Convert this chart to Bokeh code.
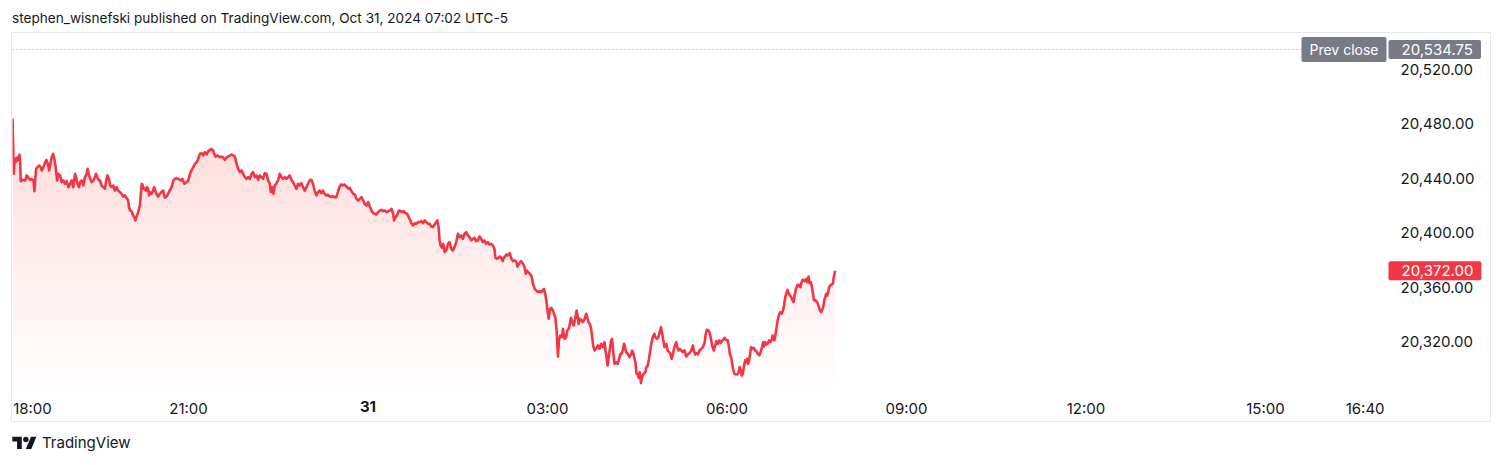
import numpy as np
from bokeh.plotting import figure
from bokeh.models import (FixedTicker, NumeralTickFormatter, Label, Div, Range1d)
from bokeh.layouts import column
from bokeh.embed import file_html
from bokeh.resources import INLINE

# ---------------- data (minutes after 18:00, price) ----------------
minutes = [
    3.5, 4.8, 5.5, 6.8, 7.5, 8.5, 9.5, 10.5, 11.2, 11.8, 13.5, 16.2, 17.8, 19.5, 21.2, 22.8, 24.5, 25.5, 26.2,
    27.2, 28.5, 30.2, 31.8, 32.8, 34.5, 36.2, 37.5, 38.8, 40.2, 41.5, 42.8, 44.2, 45.5, 46.8, 48.2, 49.5,
    51.2, 52.8, 54.5, 56.2, 57.8, 59.5, 61.2, 62.8, 64.5, 66.2, 67.2, 68.5, 70.2, 71.2, 72.8, 74.5, 76.2,
    77.8, 78.8, 80.2, 81.5, 82.8, 84.5, 85.5, 87.2, 88.5, 89.5, 91.2, 92.8, 94.5, 96.2, 97.8, 98.8, 100.2,
    101.5, 102.8, 104.5, 105.5, 106.2, 107.8, 109.5, 111.2, 112.8, 114.5, 116.2, 117.8, 119.5, 120.5, 121.5,
    122.8, 124.5, 125.5, 126.8, 127.8, 129.5, 131.2, 132.2, 133.2, 134.2, 135.2, 136.2, 137.2, 138.2, 139.5,
    140.5, 141.5, 142.8, 144.5, 145.5, 146.8, 148.2, 149.5, 151.2, 152.8, 154.5, 156.2, 157.8, 159.5, 160.8,
    162.2, 163.5, 164.8, 166.2, 167.8,
    169.8, 172.5, 173.8, 175.8, 178.2, 179.8, 181.5, 183.2, 184.8, 186.5, 188.2, 189.8, 191.5, 193.2, 194.8,
    196.5, 198.2, 199.8, 201.5, 203.2, 204.8, 205.8, 207.2, 209.2, 211.5, 213.2, 214.8, 216.5, 218.2, 219.8,
    221.5, 223.2, 224.8, 226.5, 228.2, 229.8, 231.5, 233.2, 234.8, 236.5, 238.2, 239.8, 241.5, 243.2, 244.8,
    246.5, 248.2, 249.8, 251.5, 253.2, 254.8, 256.5, 258.2, 259.8, 261.5, 262.5, 263.8, 265.2, 266.5, 268.2,
    269.8, 271.5, 273.2, 274.8, 276.5, 278.2, 279.8, 281.5, 283.2, 284.8, 286.5, 288.2, 289.8, 291.5, 293.2,
    294.8, 296.5, 298.2, 299.8, 301.5, 303.2, 304.8, 306.5, 308.2, 309.8, 311.5, 313.2, 314.8, 316.5, 318.2,
    319.8, 321.5, 323.2, 324.8, 326.5, 328.2, 329.8, 331.5, 333.2, 334.8,
    336.2, 338.5, 340.2, 341.8, 343.5, 345.2, 346.8, 348.5, 350.2, 351.8, 353.5, 355.2, 356.8, 358.5, 360.2,
    361.8, 363.5, 365.2, 366.8, 368.5, 370.2, 371.8, 373.5, 375.2, 376.8, 378.5, 380.2, 381.8, 383.5, 385.2,
    386.2, 387.5, 389.2, 390.8, 392.5, 394.2, 395.8, 397.5, 399.2, 400.8, 402.5, 403.5, 405.2, 406.8, 408.5,
    410.2, 411.8, 413.5, 415.2, 416.8, 418.5, 420.2, 421.8, 423.5, 425.2, 426.8, 428.5, 429.5, 430.8, 431.8,
    432.8, 434.2, 435.5, 436.8, 438.5, 440.2, 441.8, 443.5, 445.2, 446.8, 448.5, 450.2, 451.8, 453.5, 455.2,
    456.8, 458.5, 460.2, 461.8, 463.5, 465.2, 466.8, 468.5, 470.2, 471.8, 473.5, 475.2, 476.8, 478.5, 480.2,
    481.8, 483.5, 485.2, 486.8, 487.8, 489.5, 490.8, 492.2, 493.5, 495.2, 496.2, 497.5, 498.8, 500.2, 501.8,
    502.2, 503.8, 505.5, 507.2, 508.8, 509.8, 511.5, 513.2, 514.5, 515.8, 517.2, 518.2, 519.5, 520.5, 522.2,
    523.8, 525.5, 527.2, 528.8, 530.5, 532.2, 533.8, 535.5, 536.5, 537.8, 538.8, 539.8, 541.2, 542.5, 543.8,
    545.5, 546.5, 547.8, 549.2, 550.5, 551.5, 552.8, 554.5, 555.5, 557.2, 558.8, 559.8, 561.2, 562.5, 563.5,
    564.5, 566.2, 567.8, 569.2, 570.2, 571.2, 572.5, 573.8, 575.5, 577.2, 578.8, 579.8, 581.2, 582.5, 583.8,
    584.8, 585.8, 587.2, 588.8, 590.5, 592.2, 593.8, 595.5, 597.2, 598.2, 599.2, 600.2, 601.5, 602.8, 603.8,
    604.8, 605.8, 607.2, 608.8, 610.5, 612.2, 613.2, 614.5, 615.8, 616.8, 617.8, 618.8, 620.5, 622.2, 623.8,
    624.8, 625.8, 626.8, 628.2, 629.2, 630.2, 631.5, 632.5, 633.8, 634.8, 636.5, 638.2, 639.2, 640.5, 641.8,
    642.8, 643.8, 644.8, 645.8, 647.2, 648.2, 649.5, 650.8, 652.2, 653.8, 654.8, 656.2, 657.2, 658.2, 659.2,
    660.5, 662.2, 663.2, 664.5, 665.5, 666.5, 667.8,
    669.2, 670.2, 671.5, 672.8, 674.2, 675.8, 677.5, 679.2, 680.8, 682.5, 684.2, 685.8, 686.8, 688.2, 689.5,
    690.8, 692.5, 694.2, 695.8, 697.5, 698.5, 699.8, 701.5, 702.8, 704.2, 705.5, 706.8, 708.2, 709.5, 710.8,
    712.2, 713.5, 714.8, 716.2, 717.5, 719.2, 720.8, 721.8, 722.8, 724.2, 725.2, 726.2, 727.5, 728.8, 730.2,
    731.5, 732.8, 733.8, 734.8, 735.8, 737.2, 738.2, 739.2, 740.2, 741.2, 742.2, 743.2, 744.2, 745.5, 746.8,
    748.2, 749.5, 750.8, 752.5, 754.2, 755.2, 756.2, 757.2, 758.2, 759.5, 760.8, 762.2, 763.5, 764.8, 765.8,
    766.8, 767.5, 768.5, 769.5, 770.8, 772.2, 773.5, 774.8, 776.2, 777.2, 778.5, 779.8, 780.8, 781.8, 783.2,
    784.5, 785.8, 786.8, 787.8, 789.2, 790.5, 791.5, 792.5, 793.8, 794.8, 795.8, 797.2, 798.2, 799.5, 800.8,
    801.8, 802.8, 804.2, 805.2, 806.2, 807.2, 808.2, 809.5, 810.8, 812.2, 813.2, 814.5, 815.5, 816.5, 817.5,
    818.5, 819.5, 820.5, 821.5, 822.5, 823.5, 824.8, 826.2, 826.8, 827.8, 828.5,
]
prices = [
    20484.0, 20443.3, 20454.3, 20451.9, 20455.1, 20453.1, 20456.0, 20457.3, 20450.7, 20437.9, 20438.9, 20438.4,
    20442.1, 20440.4, 20438.9, 20439.6, 20438.4, 20430.6, 20438.4,
    20447.0, 20448.2, 20449.4, 20448.2, 20445.8, 20448.2, 20451.9, 20453.6, 20450.7, 20445.8, 20450.7, 20455.5,
    20458.0, 20454.3, 20448.2, 20438.4, 20443.3,
    20442.1, 20437.2, 20438.4, 20436.0, 20437.9, 20433.5, 20436.0, 20438.4, 20433.5, 20443.3, 20440.9, 20436.0,
    20433.5, 20437.2, 20438.4, 20434.7, 20440.9,
    20443.3, 20447.0, 20442.1, 20439.6, 20437.2, 20438.4, 20439.6, 20443.3, 20440.9, 20438.9, 20438.4, 20434.7,
    20433.5, 20432.3, 20439.6, 20442.1, 20439.6,
    20434.7, 20433.5, 20434.7, 20432.3, 20431.0, 20433.5, 20431.0, 20429.8, 20428.6, 20426.6, 20427.4, 20425.7,
    20423.7, 20418.3, 20416.4,
    20415.9, 20412.7, 20411.5, 20409.0, 20411.5, 20415.1, 20420.0, 20428.6, 20436.0, 20434.7, 20432.3, 20432.3,
    20431.0, 20433.5, 20432.3,
    20427.4, 20429.8, 20428.6, 20431.0, 20433.5, 20430.6, 20428.1, 20426.6, 20428.6, 20429.8, 20431.0, 20425.7,
    20426.6, 20428.6, 20430.6,
    20432.3, 20434.7, 20438.4, 20439.6, 20440.1,
    20439.6, 20438.4, 20439.6, 20436.0, 20437.2, 20438.4, 20443.3, 20446.2, 20448.2, 20450.7, 20451.9, 20454.3,
    20458.0, 20458.5, 20456.8,
    20459.2, 20457.5, 20460.0, 20460.9, 20461.7, 20460.4, 20458.0, 20456.0, 20456.8, 20455.5, 20456.0, 20455.1,
    20453.6, 20455.5, 20456.0,
    20456.8, 20457.5, 20456.8, 20456.0, 20450.7, 20447.0, 20444.5, 20445.8, 20443.3, 20440.9, 20439.6, 20440.9,
    20439.6, 20443.3, 20444.5,
    20440.9, 20442.1, 20438.9, 20442.1, 20440.9, 20439.6, 20443.8, 20443.3, 20438.4, 20436.0, 20429.8, 20433.5,
    20428.6, 20434.7, 20436.4,
    20438.4, 20443.3, 20440.9, 20439.6, 20440.9, 20439.6, 20440.9, 20442.1, 20438.9, 20437.2, 20434.7, 20432.3,
    20436.0, 20434.7, 20436.4,
    20433.5, 20431.0, 20433.5, 20436.0, 20438.4, 20438.9, 20436.0, 20431.0, 20427.4, 20429.8, 20431.0, 20429.1,
    20431.0, 20428.6, 20427.4,
    20427.9, 20426.6, 20426.2, 20426.9, 20426.2, 20426.2, 20429.8, 20434.0, 20435.5, 20434.7,
    20435.5, 20434.0, 20432.3, 20433.0, 20430.6, 20428.6, 20428.1, 20424.9, 20423.7, 20424.9, 20426.1, 20423.7,
    20420.8, 20420.0, 20422.5,
    20419.3, 20416.3, 20414.4, 20413.9, 20413.4, 20415.1, 20416.3, 20416.8, 20415.9, 20416.3, 20415.1, 20415.9,
    20416.3, 20417.6, 20413.9,
    20409.0, 20411.4, 20412.7, 20416.3, 20415.9, 20415.1, 20415.9, 20414.4, 20413.9, 20411.4, 20409.0, 20407.0,
    20405.3, 20407.0, 20406.5,
    20407.8, 20407.8, 20408.5, 20407.0, 20409.0, 20407.8, 20406.5, 20406.5, 20404.6, 20404.1, 20406.0, 20407.8,
    20409.0, 20404.1, 20394.3,
    20390.6, 20388.9, 20391.8, 20385.7, 20386.9, 20391.8, 20393.1, 20388.2, 20386.9, 20389.4, 20393.1, 20399.2,
    20396.7, 20398.0, 20395.5,
    20399.2, 20400.4, 20398.0, 20396.7, 20394.3, 20395.5, 20396.2, 20393.8, 20394.3, 20397.2, 20395.5, 20393.1,
    20394.3, 20391.8, 20393.1,
    20391.4, 20391.8, 20390.6, 20388.2, 20381.6, 20380.8, 20381.6, 20382.5, 20381.6, 20379.1, 20381.6, 20382.5,
    20384.0, 20383.3, 20384.5,
    20385.0, 20380.8, 20379.1, 20379.6, 20378.3, 20375.1, 20377.1, 20379.1, 20378.3, 20376.6, 20374.2, 20369.8,
    20372.2, 20371.0, 20369.8,
    20368.5, 20362.4, 20358.7, 20357.5, 20356.3, 20357.0, 20356.3, 20358.0, 20358.7, 20355.0, 20350.2, 20344.1,
    20336.7, 20344.1, 20344.8,
    20342.8, 20340.4, 20337.9, 20328.1, 20309.0, 20320.8, 20324.4, 20323.2, 20329.3, 20322.0, 20323.2, 20328.1,
    20329.3, 20333.0, 20337.4,
    20335.5, 20331.8, 20336.7, 20342.8, 20339.2, 20333.0, 20336.7, 20336.0, 20334.2, 20336.7, 20340.4, 20337.9,
    20334.2, 20333.0, 20329.3,
    20323.2, 20317.1, 20313.4, 20314.6, 20317.1, 20314.6, 20318.3, 20315.9, 20319.5, 20313.4, 20308.5, 20302.4,
    20309.0, 20315.9, 20320.8,
    20322.0, 20313.4, 20303.6, 20304.8, 20303.6, 20308.5, 20311.0, 20311.0, 20314.6, 20318.3, 20315.9, 20312.2,
    20311.0, 20308.5, 20310.5,
    20313.4, 20312.2, 20309.0, 20304.8, 20296.3, 20296.3, 20293.3, 20297.5, 20289.4, 20293.8, 20296.3, 20297.5,
    20301.2, 20302.4, 20307.3,
    20312.2, 20317.1, 20320.8, 20323.7, 20325.7, 20323.2, 20322.0, 20322.7, 20325.7, 20330.6, 20326.9, 20320.8,
    20315.9, 20317.1, 20318.3,
    20313.4, 20312.2, 20311.0, 20307.3, 20309.8, 20313.4, 20317.1,
    20319.5, 20315.9, 20313.4, 20314.6, 20313.4, 20312.2, 20313.4, 20309.0, 20310.5, 20311.5, 20313.4, 20317.1,
    20313.4, 20310.5, 20311.5,
    20310.5, 20313.4, 20314.6, 20315.9, 20318.8, 20324.4, 20328.6, 20328.1, 20326.2, 20320.8, 20315.9, 20313.4,
    20317.1, 20320.3, 20318.3,
    20320.8, 20318.8, 20320.3, 20321.2, 20322.7, 20321.2, 20320.8, 20317.1, 20311.0, 20308.5, 20303.6, 20299.2,
    20296.3, 20295.8, 20295.8,
    20296.8, 20301.2, 20298.7, 20295.0, 20296.3, 20302.4, 20306.1, 20304.8, 20307.3, 20303.6, 20306.1, 20311.0,
    20315.9, 20314.6, 20315.4,
    20313.4, 20312.9, 20311.0, 20309.8, 20313.4, 20315.9, 20319.5, 20316.4, 20319.5, 20317.8, 20318.3, 20320.8,
    20319.5, 20321.2, 20324.4,
    20323.2, 20320.8, 20324.4, 20329.3, 20335.5, 20339.9, 20341.6, 20340.4, 20342.8, 20346.5, 20352.6, 20356.3,
    20358.0, 20355.6, 20353.8,
    20352.6, 20350.2, 20348.9, 20353.8, 20358.7, 20361.2, 20361.9, 20360.5, 20360.0, 20363.6, 20365.4, 20364.9,
    20364.4, 20366.1, 20363.6,
    20367.8, 20362.9, 20363.6, 20360.0, 20355.6, 20350.2, 20350.7, 20349.7, 20348.2, 20345.3, 20342.8, 20341.6,
    20343.3, 20345.3, 20350.2,
    20352.6, 20355.1, 20353.8, 20356.3, 20360.0, 20361.2, 20361.9, 20362.4, 20366.1, 20369.8, 20372.0,
]

prev_close = 20534.75
last_price = 20372.00
price_ticks = [20320, 20360, 20400, 20440, 20480, 20520]
# time axis: minutes after 18:00 and their labels
time_tick_minutes = [0, 180, 360, 540, 720, 900, 1080, 1260, 1360]
time_tick_labels = ["18:00", "21:00", "31", "03:00", "06:00", "09:00", "12:00", "15:00", "16:40"]

FONT = "Inter"
RED = "#F23645"
TEXT = "#131722"
GRAY = "#787B86"

# whole bordered box is the plot frame; the price pane ends at pane_right / pane_bottom
x_start, x_end = 3.5, 1485.7
y_start, y_end = 20261.2, 20546.47
pane_right = 1383.4
pane_bottom = 20283.97

p = figure(width=1478, height=388, x_range=Range1d(x_start, x_end), y_range=Range1d(y_start, y_end),
           output_backend="svg", toolbar_location=None, y_axis_location="right",
           min_border_left=0, min_border_right=0, min_border_top=0, min_border_bottom=0,
           margin=(0, 0, 0, 12), background_fill_color="white", border_fill_color="white")
p.styles = {"outline": "1px solid #e6e8ee"}
p.outline_line_color = None
p.xgrid.visible = False
p.ygrid.visible = False

# gradient area under the line: overlapping translucent layers
mx = np.array(minutes)
py = np.array(prices)
n_layers = 48
levels = np.linspace(pane_bottom, y_end, n_layers + 1)[:-1]
layer_alpha = 0.0058
for lv in levels:
    top = np.maximum(py, lv)
    p.varea(x=mx, y1=lv, y2=top, fill_color=RED, fill_alpha=layer_alpha)

p.line(mx, py, line_color=RED, line_width=2.6, line_join="round")

# previous close dotted line (across the price pane)
p.segment(x0=[x_start], y0=[prev_close], x1=[pane_right], y1=[prev_close],
          line_color="#9598A1", line_dash="1 3", line_width=1)

# axes (drawn at the pane edges)
ya = p.yaxis[0]
ya.fixed_location = pane_right
ya.ticker = FixedTicker(ticks=price_ticks)
ya.formatter = NumeralTickFormatter(format="0,0.00")
ya.axis_line_color = None
ya.major_tick_line_color = None
ya.minor_tick_line_color = None
ya.major_tick_out = 0
ya.major_label_standoff = 12
ya.major_label_text_font = FONT
ya.major_label_text_font_size = "15px"
ya.major_label_text_color = TEXT

xa = p.xaxis[0]
xa.fixed_location = pane_bottom
# TradingView keeps the first label (18:00) inside the pane: its label is shifted right by half its width
label_pos = [23.5] + time_tick_minutes[1:]
xa.ticker = FixedTicker(ticks=label_pos)
overrides = {pos: lab for pos, lab in zip(label_pos, time_tick_labels)}
overrides[360] = ""  # drawn bold below
xa.major_label_overrides = overrides
xa.axis_line_color = None
xa.major_tick_line_color = None
xa.minor_tick_line_color = None
xa.major_tick_out = 0
xa.major_label_standoff = 8
xa.major_label_text_font = FONT
xa.major_label_text_font_size = "15px"
xa.major_label_text_color = TEXT

# bold day label "31"
p.add_layout(Label(x=360, y=pane_bottom, y_offset=-16, text="31", text_align="center", text_baseline="middle",
                   text_font=FONT, text_font_size="15px", text_font_style="bold", text_color=TEXT))

# badges
p.add_layout(Label(x=pane_right, y=prev_close, x_offset=-2, text="Prev close", text_align="right",
                   text_baseline="middle", text_font=FONT, text_font_size="14px", text_color="white",
                   background_fill_color=GRAY, padding=dict(left=8, right=8, top=4, bottom=4),
                   border_radius=2))
p.add_layout(Label(x=pane_right, y=prev_close, text="20,534.75", text_align="left",
                   text_baseline="middle", text_font=FONT, text_font_size="15px", text_color="white",
                   background_fill_color=GRAY, padding=dict(left=13, right=8, top=4, bottom=4),
                   border_radius=2))
p.add_layout(Label(x=pane_right, y=last_price, text="20,372.00", text_align="left",
                   text_baseline="middle", text_font=FONT, text_font_size="15px", text_color="white",
                   background_fill_color=RED, padding=dict(left=13, right=8, top=4, bottom=4),
                   border_radius=2))

header = Div(text="stephen_wisnefski published on TradingView.com, Oct 31, 2024 07:02 UTC-5",
             width=1478, height=25, margin=(8, 0, 0, 12),
             styles={"font-family": FONT, "font-size": "13.6px", "color": TEXT, "line-height": "20px"})

logo_svg = ('<svg width="25" height="19" viewBox="0 0 36 28" style="vertical-align:middle">'
            '<path d="M14 22H7V11H0V4h14v18zM28 22h-8l7.5-18h8L28 22z" fill="#131722"/>'
            '<circle cx="20" cy="8" r="4" fill="#131722"/></svg>')
footer = Div(text=('<div style="display:flex;align-items:center;gap:5px">' + logo_svg +
                   '<span>TradingView</span></div>'),
             width=600, height=40, margin=(0, 0, 0, 12),
             styles={"font-family": FONT, "font-size": "15px", "color": TEXT, "line-height": "20px",
                     "padding-top": "12px"})

layout = column(header, p, footer, spacing=0)
open("out.html", "w").write(file_html(layout, INLINE))
